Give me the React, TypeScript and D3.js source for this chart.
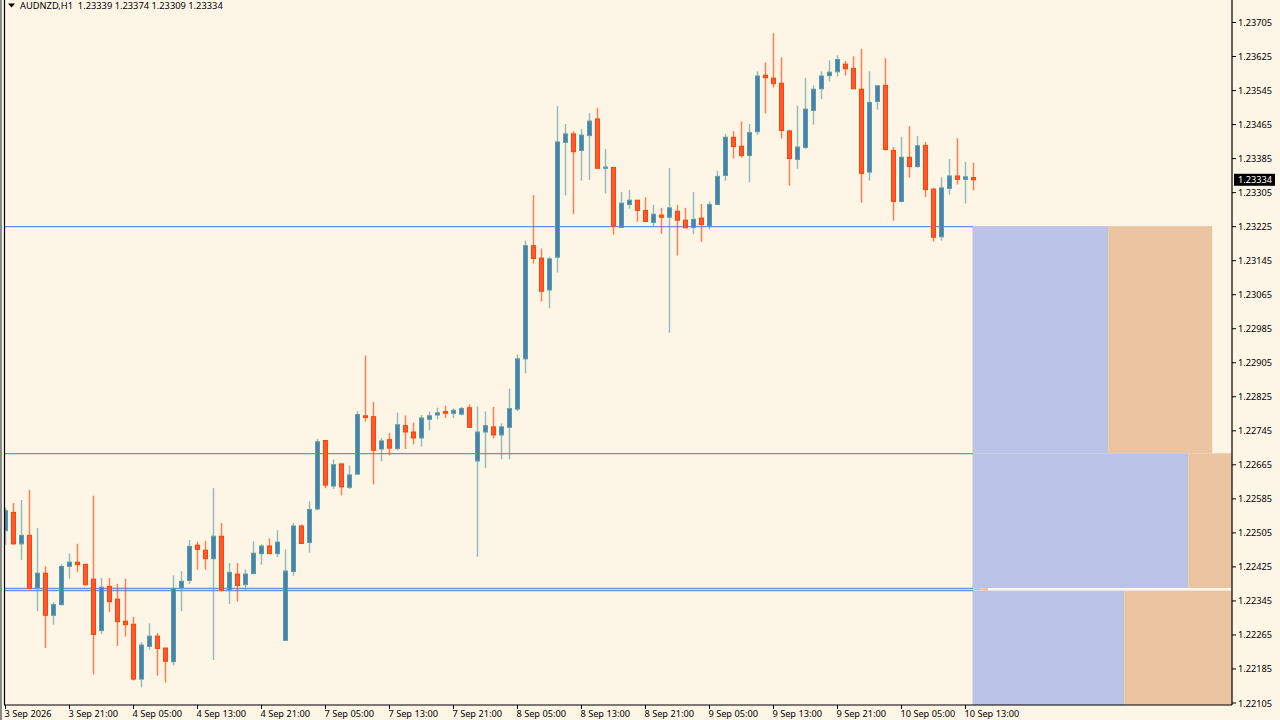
import React, { useRef, useEffect } from 'react'
import * as d3 from 'd3'

const symbolTitle = 'AUDNZD,H1'
const lastQuote = ['1.23339', '1.23374', '1.23309', '1.23334']

// Hourly bars, 3 Sep 13:00 onwards
const opens = [
  1.22509, 1.22552, 1.22478, 1.22498, 1.22375, 1.22409, 1.2231, 1.22335, 1.22425, 1.22435, 1.2243,
  1.22395, 1.22274, 1.22378, 1.22348, 1.22296, 1.22289, 1.2216, 1.22237, 1.22261, 1.22233, 1.22201,
  1.22375, 1.22392, 1.22475, 1.22463, 1.22443, 1.22496, 1.2237, 1.22407, 1.22382, 1.22408, 1.22455,
  1.22473, 1.22455, 1.22251, 1.22413, 1.2252, 1.22481, 1.2256, 1.22721, 1.22614, 1.22666, 1.22611,
  1.22642, 1.22779, 1.22777, 1.22701, 1.22723, 1.22702, 1.22756, 1.22741, 1.22727, 1.22771, 1.22781,
  1.22789, 1.22785, 1.22783, 1.22798, 1.22673, 1.22741, 1.22753, 1.22734, 1.22752, 1.22795, 1.22913,
  1.23179, 1.2315, 1.23075, 1.23152, 1.23422, 1.23442, 1.23403, 1.23438, 1.23477, 1.23361, 1.23363,
  1.23222, 1.23276, 1.23286, 1.23262, 1.23234, 1.23251, 1.23246, 1.2326, 1.23239, 1.23222, 1.23244,
  1.23225, 1.23276, 1.23344, 1.23434, 1.23413, 1.23391, 1.23447, 1.2358, 1.23573, 1.23561, 1.23449,
  1.23382, 1.2341, 1.23497, 1.23548, 1.23579, 1.23588, 1.23606, 1.23596, 1.23547, 1.23352, 1.23518,
  1.23556, 1.23403, 1.23283, 1.23387, 1.23365, 1.23415, 1.23312, 1.232, 1.23314, 1.23343, 1.23335,
  1.23339,
]
const highs = [
  1.22563, 1.22574, 1.22581, 1.22605, 1.22515, 1.22425, 1.22341, 1.2243, 1.22455, 1.22478, 1.2243,
  1.22591, 1.22398, 1.22398, 1.22384, 1.22396, 1.22306, 1.22247, 1.22291, 1.22268, 1.22233, 1.22404,
  1.22414, 1.22487, 1.22483, 1.22485, 1.22609, 1.22527, 1.22433, 1.22433, 1.22418, 1.22484, 1.22477,
  1.22491, 1.2251, 1.22465, 1.22527, 1.22524, 1.22578, 1.22725, 1.22722, 1.22676, 1.22667, 1.22662,
  1.2279, 1.22921, 1.22812, 1.22727, 1.22739, 1.22787, 1.2278, 1.22763, 1.22781, 1.22789, 1.22798,
  1.22803, 1.22796, 1.228, 1.22806, 1.22801, 1.22789, 1.228, 1.22761, 1.22843, 1.22923, 1.23191,
  1.23298, 1.23172, 1.23153, 1.23507, 1.23465, 1.23448, 1.23453, 1.23491, 1.23503, 1.23406, 1.23364,
  1.23305, 1.2331, 1.23286, 1.23293, 1.23275, 1.23268, 1.23362, 1.23275, 1.23268, 1.23305, 1.23277,
  1.23283, 1.23355, 1.23442, 1.23448, 1.23471, 1.23465, 1.23589, 1.2361, 1.23679, 1.23622, 1.2345,
  1.23508, 1.23573, 1.23556, 1.23589, 1.23615, 1.23627, 1.23613, 1.23624, 1.23642, 1.23589, 1.23556,
  1.2362, 1.23411, 1.23435, 1.2346, 1.23437, 1.23423, 1.23315, 1.2334, 1.23383, 1.23432, 1.23376,
  1.23374,
]
const lows = [
  1.22476, 1.22476, 1.2244, 1.22373, 1.2232, 1.22233, 1.22288, 1.22333, 1.22396, 1.22412, 1.2238,
  1.22171, 1.22266, 1.22318, 1.22238, 1.2226, 1.22157, 1.2214, 1.22229, 1.22168, 1.22152, 1.22192,
  1.2232, 1.22384, 1.22417, 1.22417, 1.22205, 1.22366, 1.22337, 1.22342, 1.2237, 1.22407, 1.22429,
  1.22455, 1.22447, 1.22251, 1.22403, 1.22478, 1.22457, 1.22557, 1.22609, 1.22607, 1.22592, 1.22607,
  1.2264, 1.22766, 1.22618, 1.22672, 1.22686, 1.22698, 1.22701, 1.22712, 1.22707, 1.22745, 1.22771,
  1.22774, 1.22774, 1.2278, 1.22752, 1.22448, 1.22656, 1.22726, 1.22677, 1.22677, 1.2279, 1.22879,
  1.23137, 1.23048, 1.23032, 1.23116, 1.23297, 1.23253, 1.23332, 1.23334, 1.23361, 1.23302, 1.23205,
  1.23221, 1.23266, 1.23235, 1.23235, 1.23224, 1.23207, 1.22975, 1.23156, 1.23221, 1.23206, 1.23188,
  1.23217, 1.23275, 1.23332, 1.23384, 1.23386, 1.23328, 1.2344, 1.2349, 1.23551, 1.23431, 1.2332,
  1.2336, 1.23407, 1.23464, 1.23524, 1.23565, 1.23577, 1.23579, 1.23548, 1.2328, 1.23332, 1.23499,
  1.23403, 1.23238, 1.23281, 1.23339, 1.23363, 1.23294, 1.23189, 1.23191, 1.23299, 1.23323, 1.23278,
  1.23309,
]
const closes = [
  1.22556, 1.22478, 1.22498, 1.22373, 1.22409, 1.2231, 1.22335, 1.22425, 1.22435, 1.22429, 1.22382,
  1.22265, 1.22376, 1.22342, 1.22295, 1.22288, 1.2216, 1.2224, 1.22261, 1.22232, 1.22202, 1.22373,
  1.2239, 1.22472, 1.22465, 1.22443, 1.22496, 1.22369, 1.22411, 1.2238, 1.22407, 1.22456, 1.22473,
  1.22455, 1.22482, 1.22414, 1.2252, 1.22479, 1.22559, 1.22718, 1.22616, 1.22664, 1.22612, 1.2264,
  1.22782, 1.22775, 1.22698, 1.2272, 1.22703, 1.22758, 1.22741, 1.22727, 1.22774, 1.22779, 1.22786,
  1.22785, 1.22792, 1.22796, 1.22752, 1.22741, 1.22756, 1.22734, 1.22753, 1.22796, 1.22913, 1.23179,
  1.23149, 1.23072, 1.23148, 1.23423, 1.23442, 1.234, 1.23439, 1.23472, 1.23361, 1.23364, 1.23225,
  1.23279, 1.23286, 1.23262, 1.23236, 1.23253, 1.23246, 1.23268, 1.23239, 1.23221, 1.23241, 1.23229,
  1.23276, 1.23342, 1.23434, 1.23412, 1.23391, 1.23445, 1.23578, 1.23574, 1.2356, 1.2345, 1.23384,
  1.23411, 1.235, 1.23547, 1.23578, 1.23587, 1.23617, 1.23595, 1.23548, 1.23349, 1.23516, 1.23555,
  1.23405, 1.23283, 1.23387, 1.23365, 1.23414, 1.23311, 1.23199, 1.23315, 1.23343, 1.23335, 1.23341,
  1.23334,
]

const priceTicks = [
  1.23705, 1.23625, 1.23545, 1.23465, 1.23385, 1.23305, 1.23225, 1.23145, 1.23065, 1.22985, 1.22905,
  1.22825, 1.22745, 1.22665, 1.22585, 1.22505, 1.22425, 1.22345, 1.22265, 1.22185, 1.22105,
]
const timeLabels = [
  '3 Sep 2026', '3 Sep 21:00', '4 Sep 05:00', '4 Sep 13:00', '4 Sep 21:00', '7 Sep 05:00',
  '7 Sep 13:00', '7 Sep 21:00', '8 Sep 05:00', '8 Sep 13:00', '8 Sep 21:00', '9 Sep 05:00',
  '9 Sep 13:00', '9 Sep 21:00', '10 Sep 05:00', '10 Sep 13:00',
]
const timeLabelEvery = 8

// Horizontal levels drawn across the candles
const levels = [1.23224, 1.2269, 1.22373, 1.22368]

// Volume-profile style zones to the right of the last bar (widths in bars)
const zoneTops = [1.23225, 1.22691, 1.22374, 1.22368]
const zoneBottoms = [1.22691, 1.22374, 1.22368, 1.22099]
const zoneBlueBars = [16.9, 26.9, 0.9, 18.9]
const zoneOrangeBars = [13, 6, 1, 14]
const zoneRestBars = [0, 0, 31, 0]

const App: React.FC = () => {
  const svgRef = useRef<SVGSVGElement>(null)

  useEffect(() => {
    if (!svgRef.current) return
    document.body.style.margin = '0'
    document.body.style.background = '#fdf5e6'

    const width = 1280
    const height = 720
    const left = 5
    const right = 1232
    const bottom = 705
    const font = '"Noto Sans", sans-serif'
    const fontSize = '9.2px'

    const svg = d3.select(svgRef.current)
    svg.selectAll('*').remove()

    const x = d3.scaleLinear().domain([0, 8]).range([left, left + 64])
    const y = d3.scaleLinear().domain([1.22105, 1.23705]).range([702.5, 22])

    svg.append('rect').attr('width', width).attr('height', height).attr('fill', '#fdf5e6')

    svg
      .append('defs')
      .append('clipPath')
      .attr('id', 'plot-clip')
      .append('rect')
      .attr('x', left)
      .attr('y', 0)
      .attr('width', right - left)
      .attr('height', bottom)

    const plot = svg.append('g').attr('clip-path', 'url(#plot-clip)')

    // Zones
    const lastBar = opens.length - 1
    zoneTops.forEach((top, i) => {
      const yTop = y(top)
      const h = y(zoneBottoms[i]) - yTop
      const blueEnd = lastBar + zoneBlueBars[i]
      const orangeEnd = blueEnd + zoneOrangeBars[i]
      plot
        .append('rect')
        .attr('x', x(lastBar) - 0.5)
        .attr('y', yTop)
        .attr('width', x(blueEnd) - x(lastBar) + 0.5)
        .attr('height', h)
        .attr('fill', '#bbc4e6')
      plot
        .append('rect')
        .attr('x', x(blueEnd))
        .attr('y', yTop)
        .attr('width', x(orangeEnd) - x(blueEnd))
        .attr('height', h)
        .attr('fill', '#ebc5a1')
      if (zoneRestBars[i] > 0) {
        plot
          .append('rect')
          .attr('x', x(orangeEnd))
          .attr('y', yTop)
          .attr('width', x(orangeEnd + zoneRestBars[i]) - x(orangeEnd))
          .attr('height', h)
          .attr('fill', '#fbf6ee')
      }
    })

    // Level lines stop at the last bar
    levels.forEach(level => {
      plot
        .append('line')
        .attr('x1', left)
        .attr('x2', x(lastBar))
        .attr('y1', y(level))
        .attr('y2', y(level))
        .attr('stroke', '#6f8ee0')
        .attr('stroke-width', 1.3)
    })

    // Candles
    const upBody = '#4682b4'
    const downBody = '#ff5733'
    opens.forEach((open, i) => {
      const close = closes[i]
      const up = close >= open
      const cx = Math.round(x(i))
      plot
        .append('line')
        .attr('x1', cx + 0.5)
        .attr('x2', cx + 0.5)
        .attr('y1', y(highs[i]))
        .attr('y2', y(lows[i]))
        .attr('stroke', up ? '#5f9ea0' : '#ff4500')
        .attr('stroke-opacity', 0.65)
        .attr('stroke-width', 1.5)
      const bodyTop = y(Math.max(open, close))
      const bodyBottom = y(Math.min(open, close))
      plot
        .append('rect')
        .attr('x', cx - 1.5)
        .attr('y', bodyTop)
        .attr('width', 4)
        .attr('height', Math.max(bodyBottom - bodyTop, 1))
        .attr('fill', up ? upBody : downBody)
        .attr('stroke', up ? '#5f9ea0' : '#ff4500')
        .attr('stroke-width', 1)
    })

    // Frame
    const frame = svg.append('g').attr('stroke', '#000').attr('stroke-width', 1.2)
    frame.append('line').attr('x1', 4.5).attr('x2', 4.5).attr('y1', 0).attr('y2', bottom)
    frame.append('line').attr('x1', right).attr('x2', right).attr('y1', 0).attr('y2', bottom)
    frame.append('line').attr('x1', 4).attr('x2', right).attr('y1', bottom).attr('y2', bottom)
    svg.append('rect').attr('x', 0).attr('y', 0).attr('width', 2).attr('height', height).attr('fill', '#8a8a8a')

    // Price axis
    const yAxis = svg
      .append('g')
      .attr('transform', `translate(${right},0)`)
      .call(
        d3
          .axisRight(y)
          .tickValues(priceTicks)
          .tickFormat(d => d3.format('.5f')(d as number))
          .tickSize(4)
          .tickPadding(2),
      )
    yAxis.select('.domain').remove()
    yAxis
      .selectAll('text')
      .attr('dy', '0.38em')
      .style('font-family', font)
      .style('font-size', fontSize)
      .style('fill', '#000')
    yAxis.selectAll('.tick line').attr('stroke', '#000')

    // Time axis
    const timeAxis = svg
      .append('g')
      .attr('transform', `translate(0,${bottom})`)
      .call(
        d3
          .axisBottom(x)
          .tickValues(timeLabels.map((_, i) => i * timeLabelEvery))
          .tickFormat((_, i) => timeLabels[i])
          .tickSize(4)
          .tickPadding(2),
      )
    timeAxis.select('.domain').remove()
    timeAxis
      .selectAll('text')
      .attr('text-anchor', 'start')
      .attr('dx', '-1')
      .attr('dy', '0.66em')
      .style('font-family', font)
      .style('font-size', fontSize)
      .style('fill', '#000')
    timeAxis.selectAll('.tick line').attr('stroke', '#000')

    // Current price tag
    const lastClose = closes[lastBar]
    svg
      .append('rect')
      .attr('x', 1234)
      .attr('y', y(lastClose) - 6)
      .attr('width', 41)
      .attr('height', 12)
      .attr('fill', '#000')
    svg
      .append('text')
      .attr('x', 1238)
      .attr('y', y(lastClose) + 3.5)
      .style('font-family', font)
      .style('font-size', fontSize)
      .style('fill', '#fff')
      .text(d3.format('.5f')(lastClose))

    // Title
    svg.append('path').attr('d', 'M8,3.5 L15,3.5 L11.5,7.5 Z').attr('fill', '#000')
    svg
      .append('text')
      .attr('x', 20)
      .attr('y', 9)
      .attr('xml:space', 'preserve')
      .style('font-family', font)
      .style('font-size', '9.3px')
      .style('white-space', 'pre')
      .style('fill', '#000')
      .text(`${symbolTitle}  ${lastQuote.join(' ')}`)
  }, [])

  return <svg ref={svgRef} width={1280} height={720} style={{ display: 'block' }} />
}

export default App
